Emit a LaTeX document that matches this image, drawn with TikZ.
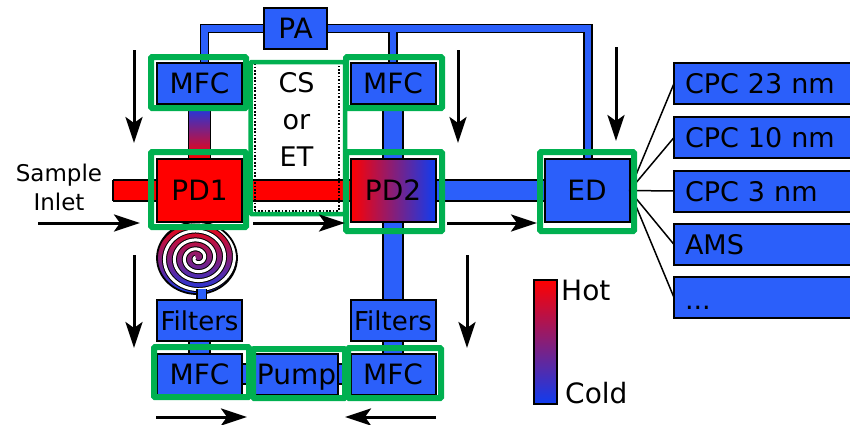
\documentclass[tikz,border=0pt]{standalone}
\usepackage{fontspec}
\setmainfont{DejaVu Sans}
\usetikzlibrary{arrows.meta}
\definecolor{bblue}{HTML}{2B5FFA}
\definecolor{cold}{HTML}{0F3CF0}
\definecolor{hot}{HTML}{FF0000}
\definecolor{gframe}{HTML}{00B050}
\pgfdeclarelayer{under}\pgfsetlayers{under,main}
\tikzset{
  bx/.style={draw=black,line width=2pt,fill=bblue,inner sep=0pt,outer sep=0pt,text=black,text height=20pt,text depth=0pt,font=\fontsize{28}{32}\selectfont},
  mbox/.style={bx,minimum width=85pt,minimum height=41pt},
  smallbox/.style={mbox,font=\fontsize{26}{30}\selectfont},
  outbox/.style={bx,minimum width=178pt,minimum height=41pt,text width=156pt,align=left,font=\fontsize{27}{30}\selectfont},
  pipe/.style={double=#1,double distance=18.5pt,line width=1.8pt,draw=black},
  fan/.style={draw=black,line width=1.5pt},
  flow/.style={draw=black,line width=3pt,-{Stealth[length=26pt,width=17pt,inset=6pt]}},
  gfr/.style={draw=gframe,line width=6pt,rounded corners=1pt},
  lbl/.style={inner sep=0pt,text=black},
}
\begin{document}
\begin{tikzpicture}[x=1pt,y=-1pt]
\useasboundingbox (0,0) rectangle (850,424);
\clip (0,0) rectangle (850,424);
% coil
\begin{pgfonlayer}{under}
\begin{scope}
\clip (197,258) ellipse [x radius=40pt,y radius=36pt];
\shade[top color=hot,bottom color=cold] (150,220) rectangle (245,296);
\draw[black,line width=5pt] plot[variable=\t,domain=60:1500,samples=260,smooth] ({197+\t/1440*40*cos(\t+90)},{258-\t/1440*36*sin(\t+90)});
\draw[white,line width=3pt] plot[variable=\t,domain=60:1500,samples=260,smooth] ({197+\t/1440*40*cos(\t+90)},{258-\t/1440*36*sin(\t+90)});
\end{scope}
\draw[black,line width=1.8pt] (197,258) ellipse [x radius=40pt,y radius=36pt];
\end{pgfonlayer}
% process boxes
\node[mbox] (MFC1) at (199.5,83) {MFC};
\node[mbox] (MFC2) at (393,83) {MFC};
\node[mbox,minimum height=63pt,fill=hot] (PD1) at (199.5,190.5) {PD1};
\node[mbox,minimum height=63pt,left color=hot,right color=cold] (PD2) at (393,190.5) {PD2};
\node[mbox,minimum height=63pt] (ED) at (587,190.5) {ED};
\node[mbox,minimum width=63pt] (PA) at (295.5,28.5) {PA};
\node[smallbox] (F1) at (199.5,320.5) {Filters};
\node[smallbox] (F2) at (393,320.5) {Filters};
\node[mbox] (MFC3) at (199.5,374) {MFC};
\node[mbox] (MFC4) at (393,374) {MFC};
\node[mbox,minimum width=83pt] (Pump) at (296.5,374) {Pump};
% outputs
\node[outbox] (O1) at (763,83.5) {CPC 23 nm};
\node[outbox] (O2) at (763,137.5) {CPC 10 nm};
\node[outbox] (O3) at (763,191) {CPC 3 nm};
\node[outbox] (O4) at (763,244.5) {AMS};
\node[outbox] (O5) at (763,297.5) {\raisebox{-1.5pt}{...}};
% coordinates
\coordinate (inlet) at (113,190.5);
\coordinate (coiltail) at (201.5,289);
\coordinate (topR) at (PA.east -| MFC2.north);
\coordinate (topL) at ([xshift=5pt]MFC1.north);
\coordinate (topE) at ([xshift=1pt]ED.north);
\begin{pgfonlayer}{under}
% thin top lines: outline pass, then fill pass, for a clean T junction
\draw[black,line width=9.6pt] (PA.west) -| (topL);
\draw[black,line width=9.6pt] (PA.east) -| (topE);
\draw[black,line width=9.6pt] (topR) -- (MFC2.north);
\draw[bblue,line width=6.6pt] (PA.west) -| (topL);
\draw[bblue,line width=6.6pt] (PA.east) -| (topE);
\draw[bblue,line width=6.6pt] (topR) -- (MFC2.north);
% thick pipes
\draw[pipe=hot] (inlet) -- (PD1.west);
\draw[black,line width=1.4pt] (113,180) -- (113,201);
\draw[pipe=hot] (PD1.east) -- (PD2.west);
\draw[pipe=bblue] (PD2.east) -- (ED.west);
\draw[pipe=bblue] (MFC2.south) -- (PD2.north);
\draw[pipe=bblue] (PD2.south) -- (F2.north);
\draw[pipe=bblue] (F1.south) -- (MFC3.north);
\draw[pipe=bblue] (F2.south) -- (MFC4.north);
\draw[pipe=bblue] (MFC3.east) -- (Pump.west);
\draw[pipe=bblue] (Pump.east) -- (MFC4.west);
\draw[double=bblue,double distance=8pt,line width=1.2pt,draw=black] (coiltail) -- (coiltail |- F1.north);
\end{pgfonlayer}
\node[draw=black,line width=1.8pt,minimum width=22pt,minimum height=55pt,inner sep=0pt,outer sep=0pt,top color=cold,bottom color=hot] (hotpipe) at (199.5,131.5) {};
% fan of sampling lines
\foreach \o in {O1,O2,O3,O4,O5}{
  \draw[fan] (ED.east) -- (\o.west);
}
% CS or ET chamber
\node[minimum width=84pt,minimum height=148pt,inner sep=0pt,outer sep=0pt,draw=black,dash pattern=on 1.7pt off 1.7pt,line width=2pt] (CS) at (296.5,137) {};
\node[lbl,align=center,font=\fontsize{27}{37}\selectfont] (CStext) at (296.5,119.5) {CS\\or\\ET};
% green frames
\draw[gfr] (151,57) rectangle (246,108);
\draw[gfr] (346,57) rectangle (442,108);
\draw[gfr] (151,152) rectangle (246,227);
\draw[gfr] (346,152) rectangle (442,231);
\draw[gfr] (540,152) rectangle (634,231);
\draw[gfr,line width=4.5pt] (250.5,62) rectangle (345,214);
\draw[gfr] (154,347) rectangle (249,397);
\draw[gfr] (253,349) rectangle (345,398);
\draw[gfr] (348,348) rectangle (441,398);
% flow arrows
\coordinate (a1s) at (134,50);  \coordinate (a1e) at (134,143);
\coordinate (a2s) at (458,50);  \coordinate (a2e) at (458,143);
\coordinate (a3s) at (616,47);  \coordinate (a3e) at (616,141);
\coordinate (a4s) at (38,223);  \coordinate (a4e) at (140,223);
\coordinate (a5s) at (253,223); \coordinate (a5e) at (345,223);
\coordinate (a6s) at (447,223); \coordinate (a6e) at (537,223);
\coordinate (a7s) at (134,255); \coordinate (a7e) at (134,348);
\coordinate (a8s) at (467,255); \coordinate (a8e) at (467,348);
\coordinate (a9s) at (156,417); \coordinate (a9e) at (247,417);
\coordinate (a10s) at (436,417); \coordinate (a10e) at (345,417);
\foreach \n in {1,...,10}{\draw[flow] (a\n s) -- (a\n e);}
% legend
\node[draw=black,line width=1.8pt,minimum width=23pt,minimum height=124pt,inner sep=0pt,outer sep=0pt,top color=hot,bottom color=cold] (legend) at (545.5,342) {};
\node[lbl,anchor=base west,font=\fontsize{28}{32}\selectfont] (hotlbl) at (561,300) {Hot};
\node[lbl,anchor=base west,font=\fontsize{28}{32}\selectfont] (coldlbl) at (565,403) {Cold};
\node[lbl,anchor=base,font=\fontsize{23}{28}\selectfont] (s1) at (59,181) {Sample};
\node[lbl,anchor=base,font=\fontsize{23}{28}\selectfont] (s2) at (59,210) {Inlet};
\end{tikzpicture}
\end{document}
